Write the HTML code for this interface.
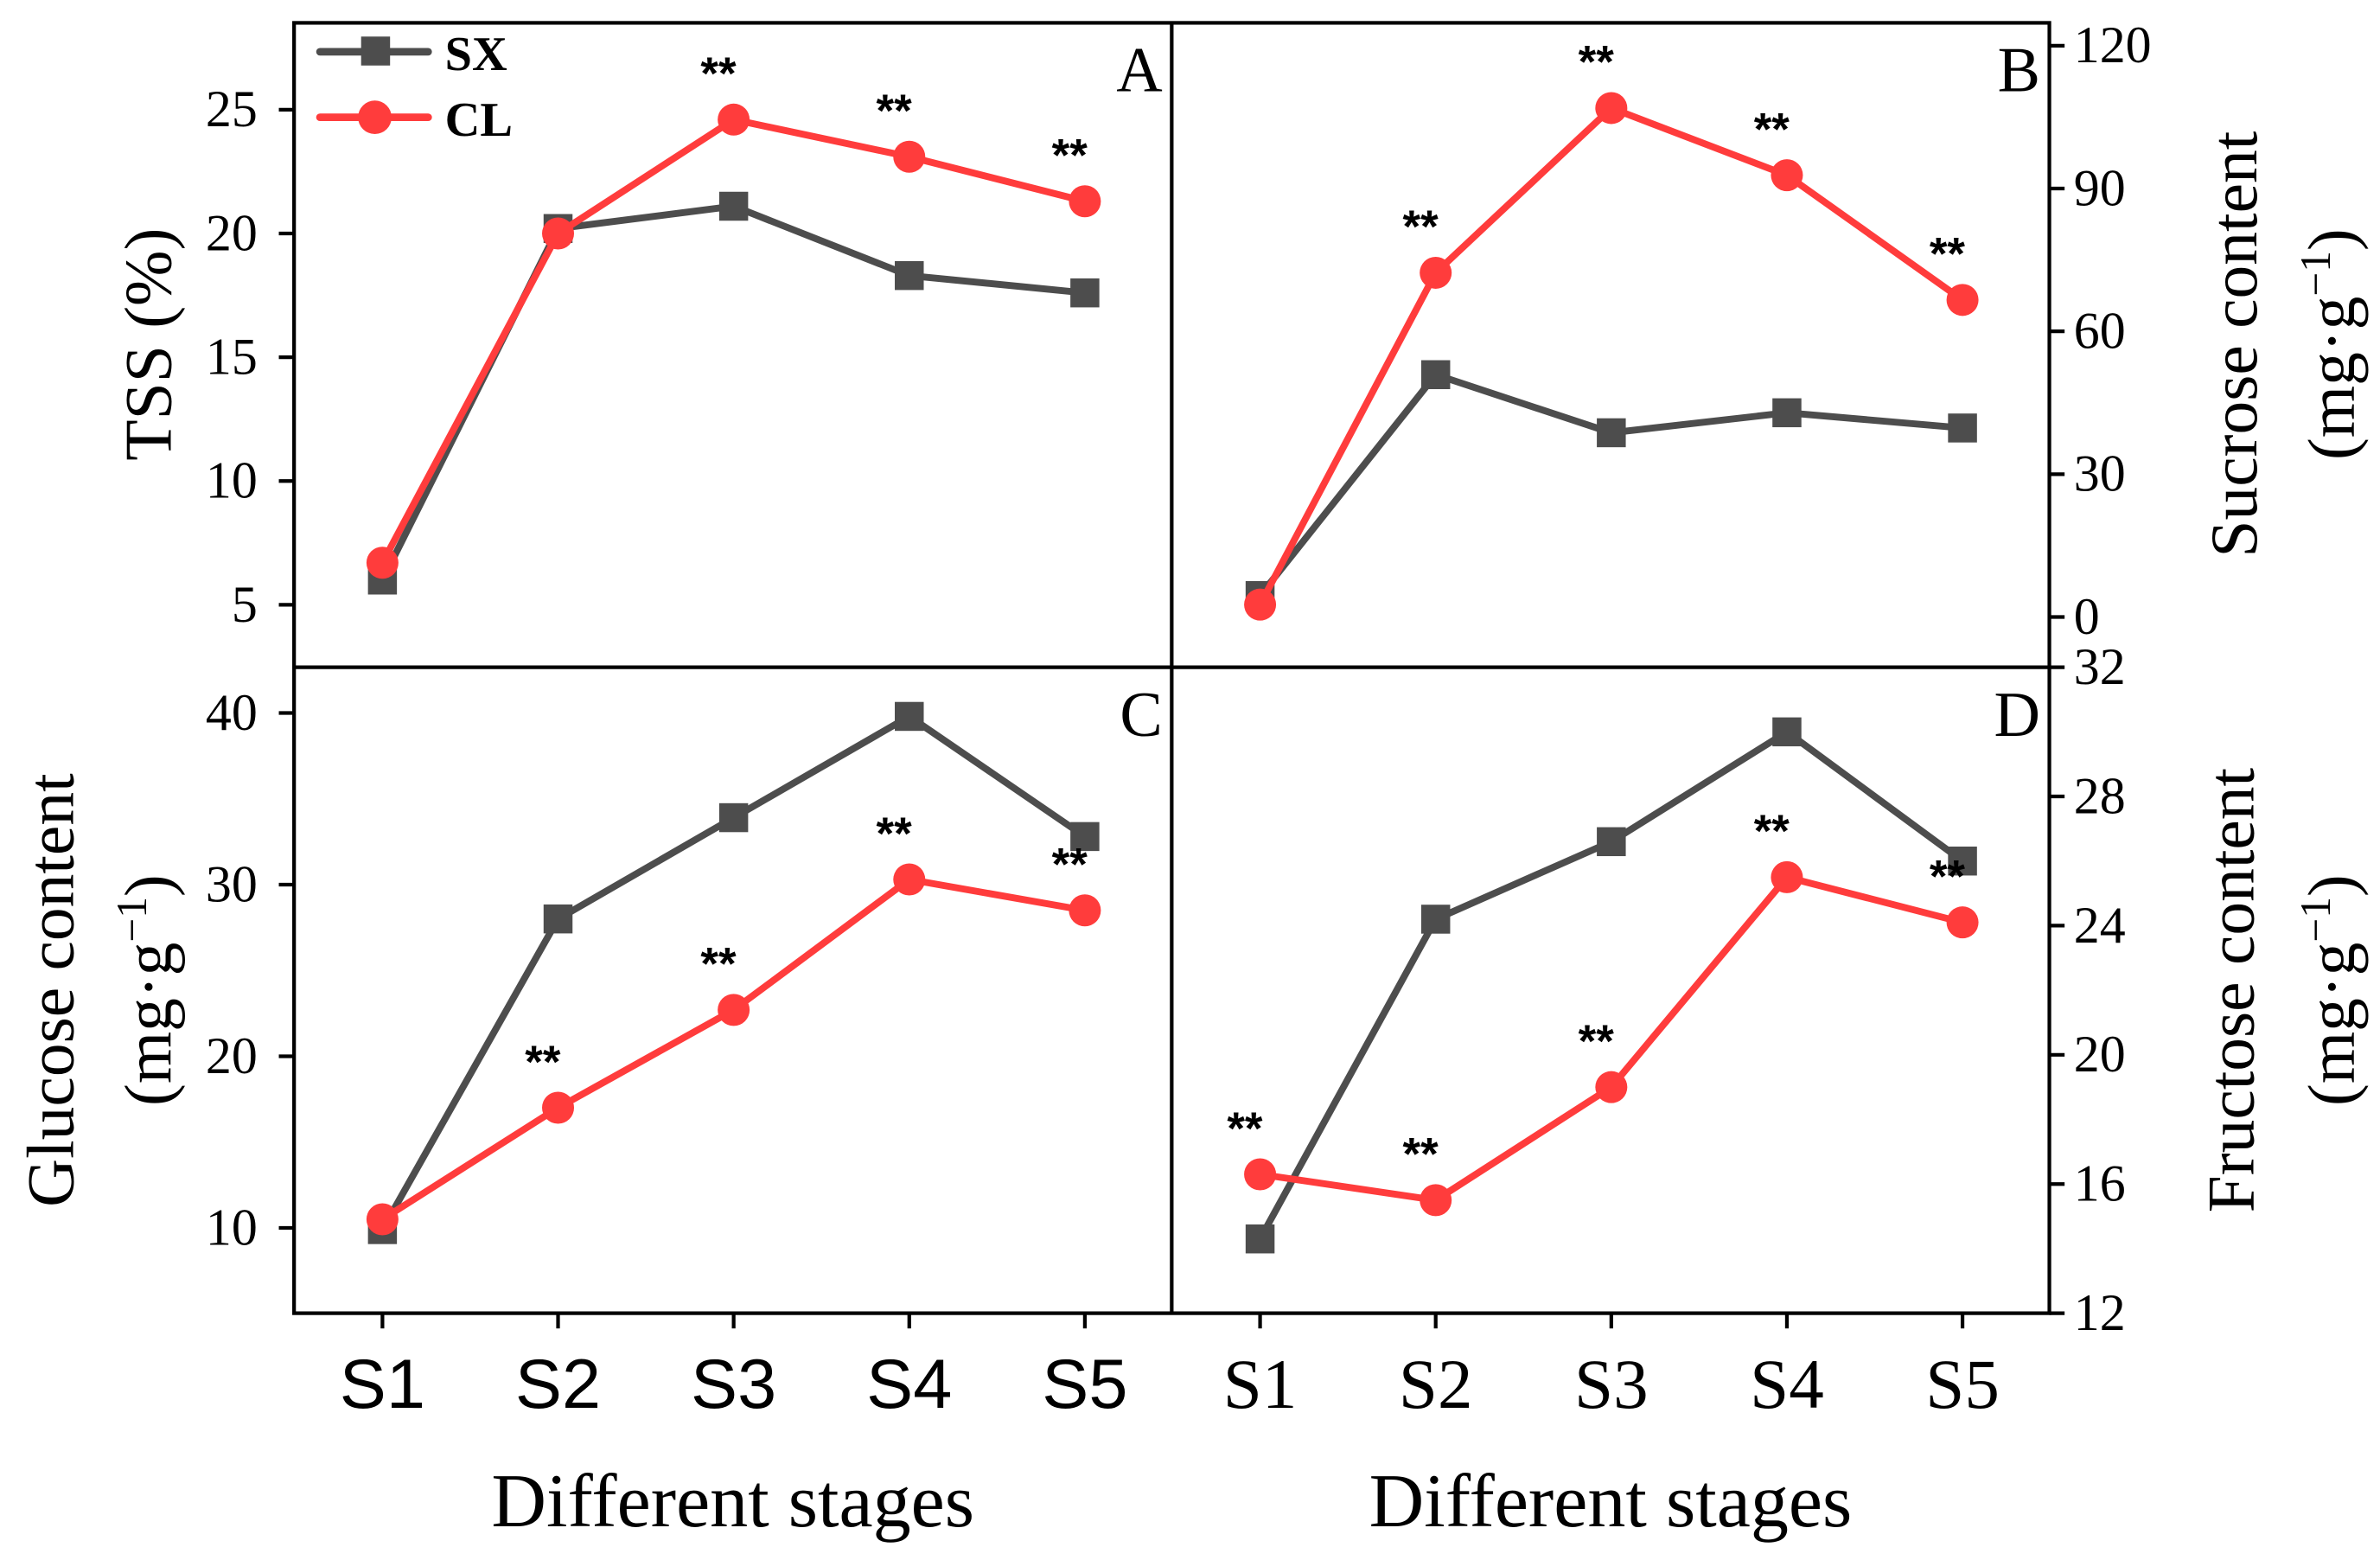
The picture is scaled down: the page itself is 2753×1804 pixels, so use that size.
<!DOCTYPE html>
<html><head><meta charset="utf-8"><style>
html,body{margin:0;padding:0;background:#fff;}
svg{display:block;}
</style></head><body>
<svg id="chart" width="2753" height="1804" viewBox="0 0 1562 1024" preserveAspectRatio="none" xmlns="http://www.w3.org/2000/svg">
<g id="root"></g>
</svg>
<script>
const categories = ["S1","S2","S3","S4","S5"];
const tssSX = [6.0,20.2,21.1,18.3,17.6];
const tssCL = [6.7,20.0,24.6,23.1,21.3];
const tssSig = ["","","**","**","**"];
const tssTicks = [5,10,15,20,25];
const sucSX = [4.5,50.9,38.7,42.9,39.7];
const sucCL = [2.6,72.3,106.9,92.8,66.6];
const sucSig = ["","**","**","**","**"];
const sucTicks = [0,30,60,90,120];
const gluSX = [9.9,28.0,33.9,39.8,32.8];
const gluCL = [10.5,17.0,22.7,30.3,28.5];
const gluSig = ["","**","**","**","**"];
const gluTicks = [10,20,30,40];
const fruSX = [14.3,24.2,26.6,30.0,26.0];
const fruCL = [16.3,15.5,19.0,25.5,24.1];
const fruSig = ["**","**","**","**","**"];
const fruTicks = [12,16,20,24,28,32];

const NS="http://www.w3.org/2000/svg";
const root=document.getElementById('root');
function mk(tag,attrs,parent,text){const e=document.createElementNS(NS,tag);for(const k in attrs)e.setAttribute(k,attrs[k]);if(text!==undefined)e.textContent=text;(parent||root).appendChild(e);return e;}
const SERIF='"Liberation Serif", serif', SANS='"Liberation Sans", sans-serif';
const GRAY='#4d4d4d', RED='#ff3c3c';

function panel(o){
  const xs=i=>o.x0+58+i*115.25;
  const ys=v=>o.yA+(v-o.vA)*(o.yB-o.yA)/(o.vB-o.vA);
  const g=mk('g',{});
  
  
  o.ticks.forEach(t=>{
    const y=ys(t);
    const side=o.right?1:-1, ax=o.right?o.x1:o.x0;
    const tk=mk('line',{x1:ax,x2:ax+side*10,y1:y,y2:y,stroke:'#000','stroke-width':2.4},g);
    
    
    const lb=mk('text',{x:o.right?ax+16:ax-24,y:y+11,'font-family':SERIF,'font-size':34,'text-anchor':o.right?'start':'end'},g,String(t));
    
    
  });
  if(o.bottom){
    categories.forEach((c,i)=>{
      const tk=mk('line',{x1:xs(i),x2:xs(i),y1:o.y1,y2:o.y1+10,stroke:'#000','stroke-width':2.4},g);
      
      
      const lb=mk('text',{x:xs(i),y:o.y1+62,'font-family':o.xfont,'font-size':o.xfont===SANS?46:46,'text-anchor':'middle'},g,c);
      
      
    });
  }
  [[o.sx,GRAY,'sq'],[o.cl,RED,'ci']].forEach(([arr,col,m])=>{
    const pts=arr.map((v,i)=>xs(i)+','+ys(v)).join(' ');
    const pl=mk('polyline',{points:pts,fill:'none',stroke:col,'stroke-width':4.5,'stroke-linejoin':'round'},g);
    
    
    arr.forEach((v,i)=>{
      let e;
      if(m==='sq') e=mk('rect',{x:xs(i)-9.5,y:ys(v)-9.5,width:19,height:19,fill:col},g);
      else e=mk('circle',{cx:xs(i),cy:ys(v),r:10.5,fill:col},g);
      
      
    });
  });
  o.sig.forEach((s,i)=>{
    if(!s)return;
    const y=ys(o.cl[i])-20;
    const t=mk('text',{x:xs(i)-10,y:y,'font-family':SANS,'font-size':30,'font-weight':'bold','text-anchor':'middle'},g,s);
    
    
  });
  const L=mk('text',{x:o.x1-6,y:o.y0+45,'font-family':SERIF,'font-size':42,'text-anchor':'end'},g,o.letter);
  
  
}
panel({name:'panel-a-tss',x0:193,x1:769,y0:15,y1:438,vA:5,yA:397,vB:25,yB:72,ticks:tssTicks,sx:tssSX,cl:tssCL,sig:tssSig,letter:'A'});
panel({name:'panel-b-sucrose',x0:769,x1:1345,y0:15,y1:438,right:true,vA:0,yA:405,vB:120,yB:30,ticks:sucTicks,sx:sucSX,cl:sucCL,sig:sucSig,letter:'B'});
panel({name:'panel-c-glucose',x0:193,x1:769,y0:438,y1:862,bottom:true,xfont:SANS,vA:10,yA:806,vB:40,yB:468,ticks:gluTicks,sx:gluSX,cl:gluCL,sig:gluSig,letter:'C'});
panel({name:'panel-d-fructose',x0:769,x1:1345,y0:438,y1:862,bottom:true,right:true,xfont:SERIF,vA:12,yA:862,vB:32,yB:438,ticks:fruTicks,sx:fruSX,cl:fruCL,sig:fruSig,letter:'D'});

const f=mk('rect',{x:193,y:15,width:1152,height:847,fill:'none',stroke:'#000','stroke-width':2.4});


const v=mk('line',{x1:769,x2:769,y1:15,y2:862,stroke:'#000','stroke-width':2.4});


const h=mk('line',{x1:193,x2:1345,y1:438,y2:438,stroke:'#000','stroke-width':2.4});



const lg=mk('g',{});


mk('line',{x1:210,x2:281,y1:34,y2:34,stroke:GRAY,'stroke-width':5,'stroke-linecap':'round'},lg);
mk('rect',{x:237,y:24,width:19,height:19,fill:GRAY},lg);
const t1=mk('text',{x:292,y:46,'font-family':SERIF,'font-size':32,'font-weight':'bold'},lg,'SX');


mk('line',{x1:210,x2:281,y1:77,y2:77,stroke:RED,'stroke-width':5,'stroke-linecap':'round'},lg);
mk('circle',{cx:246,cy:77,r:11,fill:RED},lg);
const t2=mk('text',{x:292,y:89,'font-family':SERIF,'font-size':32,'font-weight':'bold'},lg,'CL');



function title(txt,x,y,rot,name,size){
  const t=mk('text',{x:x,y:y,'font-family':SERIF,'font-size':size||44,'text-anchor':'middle',transform:rot?`rotate(-90 ${x} ${y})`:''},root);
  t.innerHTML=txt;
  
  
}
const unit='(mg·g<tspan dy="-16" font-size="28">−1</tspan><tspan dy="16">)</tspan>';
title('TSS (%)',112,226,true,'y-axis-title-tss');
title('Glucose content',48,650,true,'y-axis-title-glucose');
title(unit,112,650,true,'y-axis-unit-glucose');
title('Sucrose content',1481,226,true,'y-axis-title-sucrose');
title(unit,1545,226,true,'y-axis-unit-sucrose');
title('Fructose content',1479,650,true,'y-axis-title-fructose');
title(unit,1545,650,true,'y-axis-unit-fructose');
title('Different stages',481,1002,false,'x-axis-title-left',50);
title('Different stages',1057,1002,false,'x-axis-title-right',50);
</script>
</body></html>
